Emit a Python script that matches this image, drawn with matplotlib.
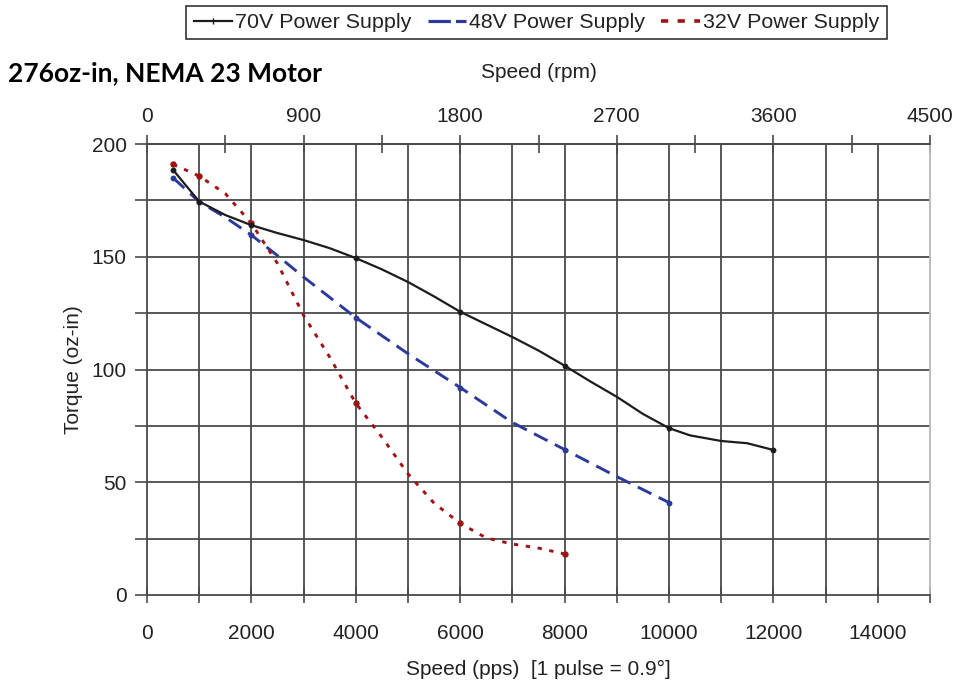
import matplotlib
matplotlib.use("Agg")
import matplotlib.pyplot as plt
from matplotlib.lines import Line2D

# ---------------- data ----------------
pps_70 = [500, 750, 1000, 1500, 2000, 2500, 3000, 3500, 4000, 4500, 5000, 5500, 6000,
          6500, 7000, 7500, 8000, 8500, 9000, 9500, 10000, 10400, 11000, 11500, 12000]
torque_70 = [188.5, 181.5, 174.5, 168.5, 164.0, 160.5, 157.4, 153.8, 149.4, 144.4, 138.8,
             132.4, 125.6, 120.0, 114.4, 108.4, 101.7, 94.6, 87.9, 80.3, 74.0, 70.8, 68.3,
             67.3, 64.3]
marks_70 = [500, 1000, 2000, 4000, 6000, 8000, 10000, 12000]

pps_48 = [500, 1000, 1500, 2000, 2500, 3000, 3500, 4000, 5000, 6000, 7000, 8000, 9000, 10000]
torque_48 = [185.0, 174.4, 167.5, 159.6, 150.5, 141.0, 132.0, 123.0, 107.0, 92.0, 76.5,
             64.5, 52.5, 41.0]
marks_48 = [500, 1000, 2000, 4000, 6000, 8000, 10000]

pps_32 = [500, 1000, 1500, 2000, 2500, 3000, 3500, 4000, 4500, 5000, 5500, 6000, 6500,
          7000, 7500, 8000]
torque_32 = [191.0, 185.8, 178.0, 164.8, 147.0, 124.0, 105.5, 85.0, 70.0, 53.7, 40.7,
             31.8, 25.3, 22.6, 20.8, 18.2]
marks_32 = [500, 1000, 2000, 4000, 6000, 8000]

series_names = ["70V Power Supply", "48V Power Supply", "32V Power Supply"]

x_ticks = list(range(0, 15001, 1000))
x_tick_labels = ["0", "", "2000", "", "4000", "", "6000", "", "8000", "", "10000", "",
                 "12000", "", "14000", ""]
y_ticks = list(range(0, 201, 25))
y_tick_labels = ["0", "", "50", "", "100", "", "150", "", "200"]
rpm_major = [0, 900, 1800, 2700, 3600, 4500]
rpm_major_labels = ["0", "900", "1800", "2700", "3600", "4500"]
rpm_minor = [450, 1350, 2250, 3150, 4050]
rpm_per_pps = 0.3

title = "276oz-in, NEMA 23 Motor"
xlabel = "Speed (pps)  [1 pulse = 0.9°]"
ylabel = "Torque (oz-in)"
top_label = "Speed (rpm)"

# ---------------- styling ----------------
plt.rcParams["font.family"] = ["Liberation Sans", "DejaVu Sans"]
FS = 15
TXT = "#222222"
GRID = "#4a4a4a"
C70 = "#1c1c1c"
C48 = "#2c3a9c"
C32 = "#9e1414"

W, H = 958, 685
fig = plt.figure(figsize=(W / 100, H / 100), dpi=100)
L, R, T, B = 147, 930, 144, 595
ax = fig.add_axes([L / W, 1 - B / H, (R - L) / W, (B - T) / H])
ax.set_xlim(0, 15000)
ax.set_ylim(0, 200)

# grid
for xv in x_ticks[1:-1]:
    ax.axvline(xv, color=GRID, lw=1.3, zorder=1)
for yv in y_ticks[1:-1]:
    ax.axhline(yv, color=GRID, lw=1.3, zorder=1)

for s in ["left", "bottom", "top"]:
    ax.spines[s].set_color(GRID)
    ax.spines[s].set_linewidth(1.3)
ax.spines["right"].set_color("#b8b8b8")
ax.spines["right"].set_linewidth(1.3)


def idx(xs, ms):
    return [xs.index(m) for m in ms]


ax.plot(pps_70, torque_70, color=C70, lw=1.6, marker="o", ms=3.2,
        markevery=idx(pps_70, marks_70), zorder=4, label=series_names[0])
ax.plot(pps_48, torque_48, color=C48, lw=2.1, dashes=(5.2, 2.8), marker="o", ms=3.2,
        markevery=idx(pps_48, marks_48), zorder=3, label=series_names[1])
ax.plot(pps_32, torque_32, color=C32, lw=2.1, dashes=(1.5, 2.6), marker="o", ms=3.6,
        markevery=idx(pps_32, marks_32), zorder=3, label=series_names[2])

ax.set_xticks(x_ticks)
ax.set_xticklabels(x_tick_labels)
ax.set_yticks(y_ticks)
ax.set_yticklabels(y_tick_labels)
ax.tick_params(axis="x", direction="inout", length=12, width=1.2, color=GRID,
               labelsize=FS, labelcolor=TXT, pad=15, top=False)
ax.tick_params(axis="y", direction="out", length=9, width=1.2, color=GRID,
               labelsize=FS, labelcolor=TXT, pad=5.5)
ax.set_xlabel(xlabel, fontsize=FS, color=TXT, labelpad=12)
ax.set_ylabel(ylabel, fontsize=FS, color=TXT, labelpad=6)

sec = ax.secondary_xaxis("top", functions=(lambda x: x * rpm_per_pps,
                                           lambda x: x / rpm_per_pps))
sec.set_xticks(rpm_major)
sec.set_xticklabels(rpm_major_labels)
sec.set_xticks(rpm_minor, minor=True)
sec.tick_params(axis="x", which="both", direction="inout", length=13, width=1.2,
                color=GRID, labelsize=FS, labelcolor=TXT, pad=6.5)
sec.spines["top"].set_color(GRID)
sec.spines["top"].set_linewidth(1.3)
sec.set_xlabel(top_label, fontsize=FS, color=TXT, labelpad=21)

fig.text(8 / W, 1 - 73 / H, title, fontsize=19, fontweight="bold",
         family=["Lato", "DejaVu Sans"], color="#000000", va="center", ha="left")

handles = [
    Line2D([], [], color=C70, lw=1.6, marker="|", ms=4),
    Line2D([], [], color=C48, lw=2.3, dashes=(7.0, 1.6)),
    Line2D([], [], color=C32, lw=2.6, dashes=(2.0, 2.6)),
]
leg = fig.legend(handles, series_names, loc="center", bbox_to_anchor=(536.5 / W, 1 - 22.5 / H),
                 ncol=3, fontsize=15.4, frameon=True, fancybox=False, edgecolor="#000000",
                 handlelength=1.8, handletextpad=0.15, columnspacing=0.75, borderpad=0.35,
                 labelcolor=TXT)
leg.get_frame().set_linewidth(1.2)

fig.savefig("out.png", dpi=100, facecolor="white")
